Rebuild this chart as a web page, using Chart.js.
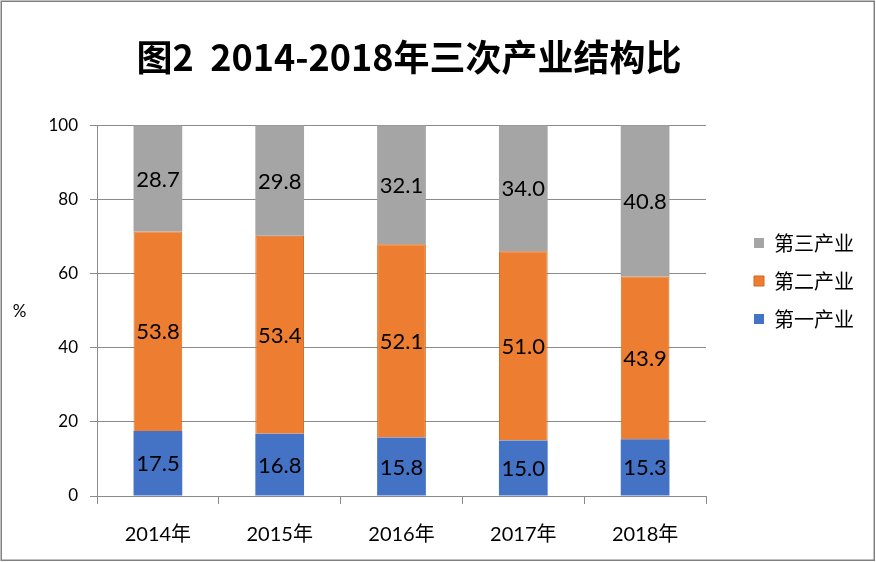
<!DOCTYPE html>
<html>
<head>
<meta charset="utf-8">
<script src="https://cdn.jsdelivr.net/npm/chart.js@4.4.1/dist/chart.umd.min.js"></script>
<style>
  html, body { margin: 0; padding: 0; background: #fff; }
  #wrap { width: 876px; height: 562px; }
</style>
</head>
<body>
<div id="wrap"><canvas id="chart" width="876" height="562"></canvas></div>
<script>
// 数据
const years = ['2014年', '2015年', '2016年', '2017年', '2018年'];
const primary = [17.5, 16.8, 15.8, 15.0, 15.3];     // 第一产业
const secondary = [53.8, 53.4, 52.1, 51.0, 43.9];   // 第二产业
const tertiary = [28.7, 29.8, 32.1, 34.0, 40.8];    // 第三产业
const seriesNames = ['第一产业', '第二产业', '第三产业'];
const yMin = 0, yMax = 100, yStep = 20;

const FONT = "Lato, 'Noto Sans CJK SC', sans-serif";
const CJK = "'Noto Sans CJK SC', sans-serif";
const GRID = '#8a8a8a';

// 布局目标
const plotRight = 706;
const legendBoxX = 754;
const titleCenterX = 409;

// 柱内数值
const valueLabels = {
  id: 'valueLabels',
  afterDatasetsDraw(chart) {
    const ctx = chart.ctx;
    ctx.save();
    ctx.font = '22px ' + FONT;
    ctx.fillStyle = '#000';
    ctx.textAlign = 'center';
    ctx.textBaseline = 'middle';
    chart.data.datasets.forEach((ds, i) => {
      chart.getDatasetMeta(i).data.forEach((bar, j) => {
        const p = bar.getCenterPoint();
        ctx.fillText(ds.data[j].toFixed(1), p.x, p.y + 1);
      });
    });
    ctx.restore();
  }
};

// 纵轴单位 % (横排) 和外框
const extras = {
  id: 'extras',
  afterLayout(chart) {
    // 标题居中于绘图区附近, 图例右移
    const t = chart.titleBlock;
    if (t) { t.left = 0; t.right = titleCenterX * 2; t.width = t.right - t.left; }
    const lg = chart.legend;
    if (lg) {
      const dx = legendBoxX - (lg.left + lg.options.labels.padding);
      lg.left += dx; lg.right += dx;
    }
  },
  afterDraw(chart) {
    const ctx = chart.ctx;
    const area = chart.chartArea;
    ctx.save();
    ctx.font = '17px ' + FONT;
    ctx.fillStyle = '#000';
    ctx.textAlign = 'center';
    ctx.textBaseline = 'middle';
    ctx.fillText('%', 19.5, (area.top + area.bottom) / 2 + 1);
    ctx.strokeStyle = '#808080';
    ctx.lineWidth = 1.5;
    ctx.strokeRect(1.25, 1.25, 873, 559);
    ctx.restore();
  }
};

const chart = new Chart(document.getElementById('chart'), {
  type: 'bar',
  data: {
    labels: years,
    datasets: [
      { label: seriesNames[0], data: primary, backgroundColor: '#4472C4', borderWidth: 0 },
      { label: seriesNames[1], data: secondary, backgroundColor: '#ED7D31', borderColor: '#D0661C', borderWidth: 1 },
      { label: seriesNames[2], data: tertiary, backgroundColor: '#A5A5A5', borderWidth: 0 }
    ]
  },
  options: {
    responsive: false,
    animation: false,
    devicePixelRatio: 1,
    layout: { padding: { left: 0, right: 40, top: 0, bottom: 0 } },
    datasets: { bar: { categoryPercentage: 1, barPercentage: 0.4 } },
    scales: {
      x: {
        stacked: true,
        grid: { offset: true, drawOnChartArea: false, drawTicks: true, tickLength: 8, color: GRID },
        border: { color: GRID },
        ticks: { font: { size: 20, family: FONT }, color: '#000', padding: 19 },
        afterFit(scale) { scale.height = 66; }
      },
      y: {
        stacked: true,
        min: yMin,
        max: yMax,
        grid: { color: GRID, tickLength: 7 },
        border: { color: GRID },
        ticks: { stepSize: yStep, font: { size: 17, family: FONT }, color: '#000', padding: 12 },
        afterFit(scale) { scale.width = 97; }
      }
    },
    plugins: {
      title: {
        display: true,
        text: '图2  2014-2018年三次产业结构比',
        font: { size: 36, weight: 'bold', family: CJK },
        color: '#000',
        padding: { top: 36, bottom: 46 }
      },
      legend: {
        position: 'right',
        reverse: true,
        labels: {
          boxWidth: 10,
          boxHeight: 10,
          padding: 18,
          color: '#000',
          font: { size: 20, family: CJK }
        }
      },
      tooltip: { enabled: false }
    }
  },
  plugins: [valueLabels, extras]
});

// 调整右边距使绘图区右边界对齐
const gap = chart.chartArea.right - plotRight;
if (gap !== 0) {
  chart.options.layout.padding.right += gap;
  chart.update();
}
</script>
</body>
</html>
